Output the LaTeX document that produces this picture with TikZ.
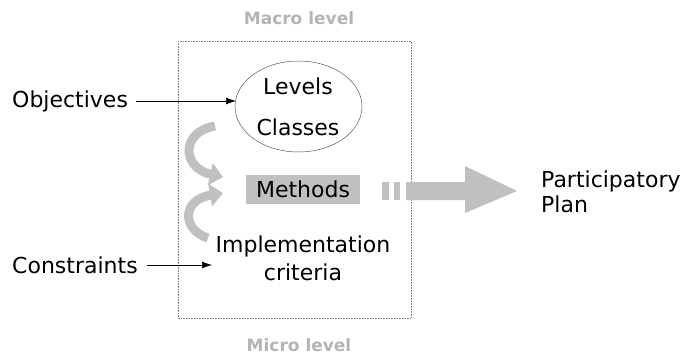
\documentclass[tikz,border=0pt]{standalone}
\usepackage{fontspec}
\setmainfont{DejaVu Sans}
\usetikzlibrary{arrows.meta,shapes.geometric}
\definecolor{lightgray}{HTML}{C0C0C0}
\definecolor{labelgray}{HTML}{B4B4B4}
\tikzset{
  txt/.style={font=\fontsize{22}{26}\selectfont, inner sep=0pt},
  levellabel/.style={font=\fontsize{17}{20}\selectfont\bfseries, text=labelgray, inner sep=0pt},
  inarrow/.style={-{Latex[length=10pt,width=7pt]}, line width=0.6pt},
  curl/.style={draw=lightgray, line width=9pt, -{Triangle[length=13pt,width=22pt]}, lightgray},
}
\begin{document}
\begin{tikzpicture}[x=1pt,y=-1pt]
  \useasboundingbox (0,0) rectangle (684,356);
  % frame
  \draw[gray, line width=0.6pt, densely dotted] (178,41) rectangle (411,318);
  \node[levellabel] (macro) at (299,18) {Macro level};
  \node[levellabel] (micro) at (299,345) {Micro level};
  % ellipse
  \node[draw, ellipse, gray!70!black, line width=0.5pt, minimum width=127pt, minimum height=91pt, inner sep=0pt] (ell) at (298.5,106.5) {};
  \node[txt] (levels) at (298,86) {Levels};
  \node[txt] (classes) at (298,127) {Classes};
  % methods
  \node[fill=lightgray, minimum width=114pt, minimum height=29pt, inner sep=0pt] (methbox) at (303,189.5) {};
  \node[txt] (methods) at (303,189) {Methods};
  % implementation criteria
  \node[txt] (impl) at (303,246) {Implementation};
  \node[txt] (crit) at (303,272) {criteria};
  % inputs
  \node[txt, anchor=west] (obj) at (12,101) {Objectives};
  \node[txt, anchor=west] (cons) at (12,265) {Constraints};
  \coordinate (objend) at (236,101);
  \coordinate (consend) at (212,265);
  \draw[inarrow] (obj.east) ++(8,0) coordinate (objstart) -- (objend);
  \draw[inarrow] (cons.east) ++(9,0) coordinate (consstart) -- (consend);
  % curved arrows
  \coordinate (c1s) at (215,126);
  \coordinate (c1e) at (223,177);
  \coordinate (c2s) at (208,238);
  \coordinate (c2e) at (223,193);
  \draw[curl] (c1s) .. controls (180,132) and (182,168) .. (c1e);
  \draw[curl] (c2s) .. controls (182,230) and (181,200) .. (c2e);
  % big arrow
  \fill[lightgray] (382,182) rectangle (389,200);
  \fill[lightgray] (394,182) rectangle (400,200);
  \fill[lightgray] (406,182) -- (465,182) -- (465,166) -- (517,191) -- (465,213) -- (465,200) -- (406,200) -- cycle;
  \node[txt, anchor=west, align=left] (plan) at (541,192) {Participatory\\[-1pt]Plan};
\end{tikzpicture}
\end{document}
